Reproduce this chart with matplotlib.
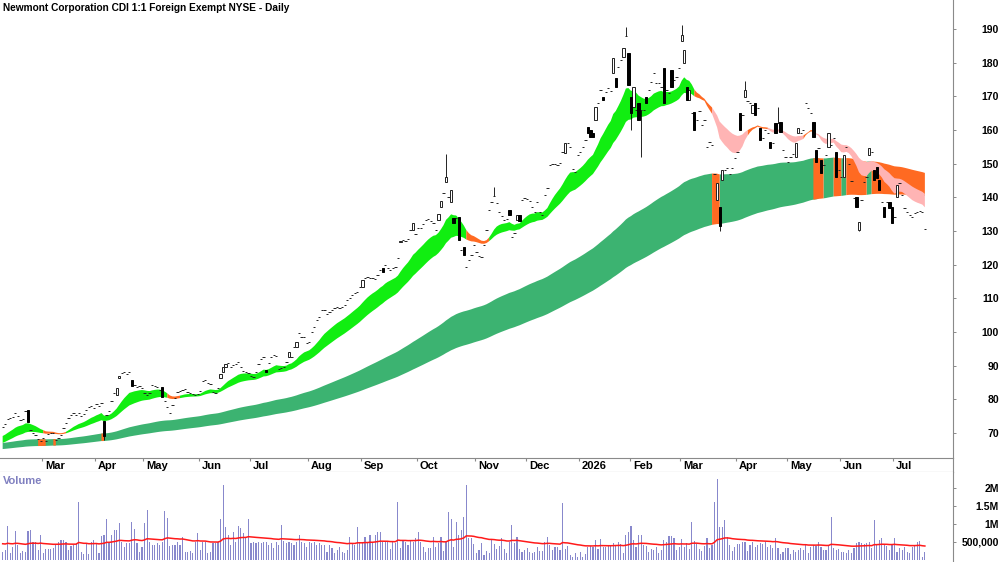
import numpy as np
import pandas as pd
import matplotlib
matplotlib.use('Agg')
import matplotlib.pyplot as plt
from matplotlib.ticker import FixedLocator, FixedFormatter

plt.rcParams['font.family'] = ['Liberation Sans', 'DejaVu Sans']
plt.rcParams['font.weight'] = 'bold'

title = 'Newmont Corporation CDI 1:1 Foreign Exempt NYSE - Daily'

# trading calendar (ASX)
first_day, last_day = '2025-02-07', '2026-07-17'
asx_holidays = ['2025-04-18', '2025-04-21', '2025-04-25', '2025-06-09', '2025-12-25',
                '2025-12-26', '2026-01-01', '2026-01-26', '2026-04-03', '2026-04-06',
                '2026-06-08']

# daily closes
feb25 = [71.8, 72.8, 74.2, 74.5, 74.8, 76.0, 75.0, 73.9, 74.2, 76.5, 73.3, 70.9, 70.0, 69.4, 68.2, 67.6]
mar25 = [68.5, 67.5, 69.7, 70.0, 70.0, 68.0, 68.5, 69.5, 71.5, 73.0, 74.5, 75.4, 76.0, 75.5, 76.0,
         75.2, 75.7, 76.8, 77.7, 78.0, 77.5]
apr25 = [78.5, 78.0, 79.0, 69.0, 75.5, 76.5, 79.5, 82.0, 83.5, 87.0, 87.8, 88.0, 87.5, 88.1, 84.0,
         84.3, 83.7, 84.0, 83.4]
may25 = [82.0, 81.3, 81.9, 84.3, 84.0, 83.7, 82.8, 80.7, 79.5, 77.7, 76.0, 78.3, 80.4, 82.2, 82.5,
         82.8, 83.0, 82.2, 81.9, 81.5, 81.3, 81.6]
jun25 = [82.5, 85.5, 85.8, 84.9, 84.5, 82.2, 82.0, 83.4, 87.5, 89.5, 90.5, 90.8, 89.6, 90.2, 90.5,
         91.1, 89.6, 88.5, 88.1, 87.8]
jul25 = [87.0, 86.7, 88.0, 90.5, 92.0, 92.6, 88.0, 90.8, 92.5, 93.2, 93.0, 89.0, 89.3, 89.6, 91.0,
         94.0, 92.6, 95.6, 97.0, 99.7, 98.5, 98.5, 96.7]
aug25 = [97.0, 100.0, 101.5, 103.5, 104.5, 106.5, 106.5, 105.5, 106.0, 106.5, 107.0, 107.4, 107.0,
         107.5, 108.0, 109.5, 110.0, 111.0, 111.5, 112.0, 113.4]
sep25 = [115.5, 116.0, 116.3, 116.0, 116.0, 115.8, 117.0, 118.5, 117.8, 120.0, 119.0, 118.4, 119.0,
         119.3, 122.0, 127.0, 127.3, 127.0, 127.5, 130.3, 132.4, 129.0]
oct25 = [131.0, 131.0, 132.0, 133.3, 133.5, 133.0, 132.5, 130.3, 135.0, 139.0, 141.3, 146.0, 140.0,
         142.2, 132.5, 134.0, 127.3, 124.5, 122.9, 119.3, 121.5, 123.0, 125.8]
nov25 = [123.8, 122.5, 122.3, 125.8, 130.3, 136.2, 138.6, 140.5, 138.3, 135.6, 134.5, 133.3, 133.5,
         134.8, 128.2, 129.4, 134.8, 133.0, 139.2, 139.8]
dec25 = [139.5, 139.0, 137.0, 135.6, 138.6, 135.6, 134.8, 140.7, 142.8, 149.6, 150.0, 150.0, 149.6,
         150.2, 153.5, 156.0, 156.0, 155.0, 148.5, 147.5, 152.6]
jan26 = [153.5, 155.0, 157.0, 159.0, 158.0, 158.0, 166.8, 168.0, 171.9, 169.0, 171.3, 172.5, 171.5,
         181.4, 172.8, 178.7, 180.8, 184.4, 188.0, 173.4]
feb26 = [165.0, 172.8, 166.0, 163.0, 166.0, 166.0, 168.0, 172.0, 174.3, 177.0, 174.0, 174.0, 172.8,
         168.0, 172.0, 171.0, 172.8, 174.8, 175.7, 178.4]
mar26 = [188.2, 183.8, 169.0, 172.0, 165.0, 160.0, 163.0, 165.5, 161.5, 163.0, 155.0, 156.4, 155.5,
         147.0, 144.3, 131.5, 148.0, 148.0, 148.7, 147.0, 148.7, 151.7]
apr26 = [153.5, 160.0, 164.5, 172.0, 168.5, 168.0, 167.4, 164.5, 166.5, 157.0, 157.6, 160.0, 159.0,
         154.6, 156.0, 159.0, 162.0, 159.4, 154.0, 152.0]
may26 = [150.5, 152.0, 153.0, 156.0, 160.6, 159.0, 160.0, 168.0, 166.5, 165.0, 158.0, 150.5, 154.6,
         147.2, 149.6, 152.6, 159.0, 155.5, 157.6, 146.0, 148.0]
jun26 = [146.0, 152.6, 155.0, 150.0, 145.0, 139.8, 137.1, 132.7, 139.2, 144.6, 146.0, 154.6, 153.5,
         145.2, 145.8, 142.2, 138.6, 134.2, 138.6, 136.8, 132.4]
jul26 = [134.2, 143.7, 144.3, 140.7, 136.8, 135.5, 134.8, 134.2, 135.3, 135.6, 136.0, 135.5, 130.6]

# opens of the bars with a visible body (others are flat dashes); extra wick ends
open_marks = {10: 76.8, 40: 73.6, 45: 81.3, 46: 86.4, 51: 85.8, 63: 83.7, 86: 86.4, 87: 88.1,
              88: 89.6, 104: 88.7, 113: 92.6, 116: 95.6, 142: 113.4, 150: 119.0, 157: 126.7,
              162: 130.3, 172: 133.3, 173: 137.0, 175: 144.6, 177: 138.6, 178: 134.0, 180: 134.2,
              182: 125.2, 200: 136.2, 203: 133.3, 204: 134.8, 222: 153.2, 231: 160.9, 232: 160.0,
              233: 159.0, 234: 163.0, 237: 169.8, 241: 177.0, 242: 175.4, 245: 181.7, 247: 182.9,
              248: 169.8, 249: 166.8, 251: 168.0, 254: 169.8, 261: 178.4, 264: 177.8, 268: 186.5,
              269: 180.0, 270: 172.8, 271: 169.0, 273: 165.3, 282: 139.2, 283: 137.1, 284: 145.2,
              291: 165.0, 293: 169.8, 296: 165.0, 297: 168.0, 299: 160.6, 303: 156.4, 305: 162.0,
              307: 162.4, 313: 152.0, 314: 159.0, 320: 162.4, 321: 154.0, 323: 151.0, 326: 155.0,
              329: 153.5, 332: 146.0, 337: 140.0, 338: 130.3, 342: 152.6, 344: 148.0, 345: 149.0,
              346: 145.2, 348: 137.1, 350: 138.6, 351: 137.1, 353: 140.0}
high_marks = {175: 153.0, 194: 143.0, 246: 190.6, 268: 191.2, 293: 174.5, 306: 166.8}
low_marks = {40: 68.0, 248: 160.0, 252: 152.0, 283: 130.0, 338: 130.0}

# daily volume in thousands of shares
volume_k = [
    232, 278, 955, 185, 371, 806, 417, 185, 250, 232, 806, 834, 491, 491, 278, 695, 185, 306, 306, 306,
    324, 417, 491, 556, 556, 491, 278, 399, 417, 463, 1621, 213, 167, 463, 157, 491, 556, 463, 185, 667,
    695, 1131, 491, 695, 834, 834, 1038, 491, 371, 463, 463, 1047, 862, 463, 232, 371, 1019, 1390, 491, 417,
    417, 463, 417, 491, 1362, 1158, 399, 417, 417, 510, 417, 648, 232, 213, 250, 185, 510, 741, 278, 510,
    491, 185, 232, 463, 463, 491, 1140, 2070, 927, 695, 417, 788, 491, 955, 880, 741, 648, 1140, 463, 510,
    463, 491, 463, 491, 510, 417, 463, 324, 491, 417, 973, 528, 463, 491, 463, 417, 491, 695, 510, 463,
    371, 491, 463, 491, 417, 463, 417, 417, 232, 417, 324, 185, 278, 371, 232, 185, 278, 648, 463, 417,
    927, 491, 463, 648, 491, 695, 491, 695, 788, 788, 510, 491, 491, 306, 491, 463, 1621,
    324, 556, 510, 417, 556, 510, 602, 770, 510, 352, 232, 324, 324, 648, 352, 463, 648, 260, 510, 1343,
    1131, 371, 1065, 695, 834, 1204, 2085, 602, 602, 445, 204, 278, 482, 139, 260, 204, 556, 445, 296, 390,
    602, 296, 204, 510, 973, 463, 648, 296, 232, 278, 324, 232, 185, 232, 371, 260, 260, 510, 648, 417,
    278, 352, 352, 278, 1575, 296, 390, 139, 93, 204, 74, 232, 93, 167, 352, 390, 352, 556, 296, 584,
    352, 352, 390, 390,
    482, 417, 510, 445, 204, 695, 787, 945, 556, 352, 695, 695, 417, 390, 232, 296, 278, 352, 204, 278,
    556, 510, 667, 667, 602, 278, 352, 575, 371, 482, 296, 1065, 537, 445, 296, 260, 390, 602, 324,
    417, 1603, 2252, 927, 927, 1112, 648, 417, 250, 371, 436, 436, 491, 491, 250, 417, 491, 371, 417, 463,
    436, 491, 371, 417, 324, 602, 324, 157, 232, 324, 324, 157, 278, 232, 278, 324, 278, 417, 185, 371,
    417, 399, 491, 371, 278, 278, 417, 1205, 324, 278, 306, 232, 232, 185, 278, 185, 343, 463, 491, 463,
    436, 463, 491, 324, 1112, 417, 556, 602, 417, 399, 278, 417, 602, 232, 324, 278, 371, 232, 185, 371,
    417, 491, 528, 93, 213]

# moving-average ribbons and the values they stood at just before the first bar
short_periods = [17, 20, 23, 27, 31, 35]
long_periods = [140, 155, 170, 185, 205, 230]
short_seed = [68.8, 68.4, 68.0, 67.6, 67.2, 66.8]
long_seed = [67.0, 66.6, 66.2, 65.9, 65.6, 65.2]
vol_ma_seed = 460

price_ticks = list(range(70, 200, 10))
vol_ticks = [500e3, 1e6, 1.5e6, 2e6]
vol_tick_labels = ['500,000', '1M', '1.5M', '2M']

short_colors = {'up': '#11ee11', 'mixed': '#ff6a22', 'down': '#ffb4b4'}
long_colors = {'up': '#3cb371', 'mixed': '#ff6a22'}


def ema(values, period, seed):
    a = 2.0 / (period + 1)
    out = np.empty(len(values))
    e = seed
    for i, v in enumerate(values):
        e += a * (v - e)
        out[i] = e
    return out


def order_state(stack):
    # short ribbon: fast above slow = up, fully inverted = down, tangled = mixed
    d = np.diff(stack, axis=0)
    state = np.full(stack.shape[1], 'mixed', dtype=object)
    state[(d < 0).all(axis=0)] = 'up'
    state[(d > 0).all(axis=0)] = 'down'
    return state


def lead_state(stack, seeds):
    # long ribbon: turns orange whenever its fastest line is falling
    fast = np.r_[seeds[0], stack[0]]
    return np.where(np.diff(fast) >= 0, 'up', 'mixed').astype(object)


def draw_ribbon(ax, x, stack, state, colors):
    lo, hi = stack.min(axis=0), stack.max(axis=0)
    for name, col in colors.items():
        m = state == name
        m_ext = m | np.r_[m[1:], False]
        ax.fill_between(x, lo, hi, where=m_ext, color=col, linewidth=0, zorder=1)


close = np.array(feb25 + mar25 + apr25 + may25 + jun25 + jul25 + aug25 + sep25 + oct25 + nov25
                 + dec25 + jan26 + feb26 + mar26 + apr26 + may26 + jun26 + jul26)
dates = pd.bdate_range(first_day, last_day)
dates = dates[~dates.isin(pd.to_datetime(asx_holidays))]
n = min(len(close), len(dates))
close = close[:n]
dates = dates[:n]
x = np.arange(n)

opens = close.copy()
for k, v in open_marks.items():
    opens[k] = v
highs = np.maximum(opens, close)
lows = np.minimum(opens, close)
for k, v in high_marks.items():
    highs[k] = max(highs[k], v)
for k, v in low_marks.items():
    lows[k] = min(lows[k], v)

vol = np.array(volume_k[:n], dtype=float) * 1000
vol_ma = ema(vol, 50, vol_ma_seed * 1000)

short_stack = np.array([ema(close, p, s) for p, s in zip(short_periods, short_seed)])
long_stack = np.array([ema(close, p, s) for p, s in zip(long_periods, long_seed)])

# figure layout (pixel based, 1000x562)
W, H = 1000, 562
fig = plt.figure(figsize=(10, 5.62), dpi=100)
right = 953 / W
ax = fig.add_axes([0, 1 - 458 / H, right, 458 / H])
ax_m = fig.add_axes([0, 1 - 472 / H, right, 14 / H])
ax_v = fig.add_axes([0, 0, right, 90 / H])

xmin, xmax = -1.05, 375.1
grey = '#8a8a8a'

# price panel
draw_ribbon(ax, x, long_stack, lead_state(long_stack, long_seed), long_colors)
draw_ribbon(ax, x, short_stack, order_state(short_stack), short_colors)

up = close >= opens
ax.vlines(x, lows, highs, color='black', linewidth=0.6, zorder=3)
ax.bar(x[up], (close - opens)[up], bottom=opens[up], width=0.9, color='white',
       edgecolor='#222222', linewidth=0.7, zorder=4)
ax.bar(x[~up], (close - opens)[~up], bottom=opens[~up], width=0.9, color='black',
       edgecolor='black', linewidth=0.7, zorder=4)

ax.set_xlim(xmin, xmax)
ax.set_ylim(62.6, 198.6)
ax.yaxis.tick_right()
ax.yaxis.set_major_locator(FixedLocator(price_ticks))
ax.tick_params(axis='y', length=2, width=0.7, color=grey, pad=31, labelsize=7.5)
for lbl in ax.get_yticklabels():
    lbl.set_horizontalalignment('right')
ax.set_xticks([])
for s in ['left', 'top', 'bottom']:
    ax.spines[s].set_visible(False)
ax.spines['right'].set_color(grey)
ax.spines['right'].set_linewidth(0.8)

fig.text(3 / W, 1 - 8 / H, title, fontsize=7.25, fontweight='bold', ha='left', va='center')

# month strip
month_start = [i for i in range(1, n) if dates[i].month != dates[i - 1].month]
ax_m.set_xlim(xmin, xmax)
ax_m.set_ylim(0, 1)
ax_m.vlines(np.array(month_start) - 0.5, 0.78, 1.0, color=grey, linewidth=0.8)
for i in month_start:
    lbl = str(dates[i].year) if dates[i].month == 1 else dates[i].strftime('%b')
    ax_m.annotate(lbl, (i - 0.5, 0.45), xytext=(2.2, 0), textcoords='offset points',
                  ha='left', va='center', fontsize=8, fontweight='bold')
ax_m.set_xticks([])
ax_m.set_yticks([])
ax_m.spines['left'].set_visible(False)
for s in ['top', 'bottom', 'right']:
    ax_m.spines[s].set_color(grey)
    ax_m.spines[s].set_linewidth(0.8)

# volume panel
ax_v.bar(x, vol, width=0.45, color='#8888cc', linewidth=0, zorder=2)
ax_v.plot(x, vol_ma, color='#ff1a1a', linewidth=1.1, zorder=3)
ax_v.set_xlim(xmin, xmax)
ax_v.set_ylim(-56e3, 2.444e6)
ax_v.yaxis.tick_right()
ax_v.yaxis.set_major_locator(FixedLocator(vol_ticks))
ax_v.yaxis.set_major_formatter(FixedFormatter(vol_tick_labels))
ax_v.tick_params(axis='y', length=2, width=0.7, color=grey, pad=31, labelsize=7.5)
for lbl in ax_v.get_yticklabels():
    lbl.set_horizontalalignment('right')
ax_v.set_xticks([])
for s in ['left', 'top', 'bottom']:
    ax_v.spines[s].set_visible(False)
ax_v.spines['right'].set_color(grey)
ax_v.spines['right'].set_linewidth(0.8)
ax_v.text(3 / (W * right), 0.9, 'Volume', transform=ax_v.transAxes, color='#8080c0',
          fontsize=8, fontweight='bold', ha='left', va='center')

fig.savefig('out.png', dpi=100)
